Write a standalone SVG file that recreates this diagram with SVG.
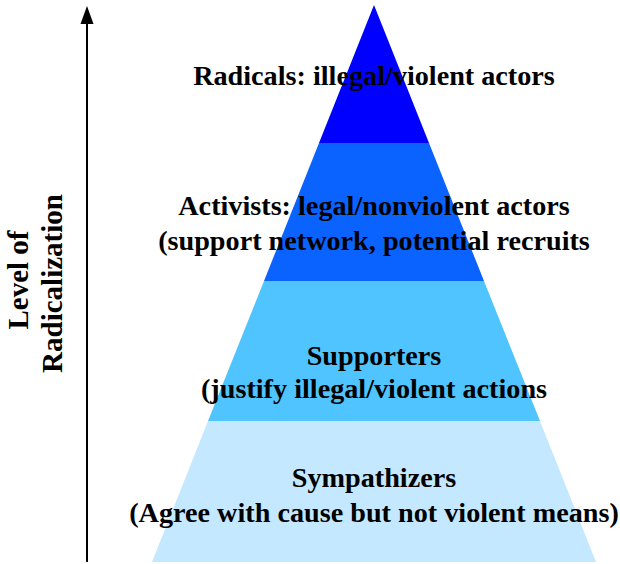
<svg xmlns="http://www.w3.org/2000/svg" width="620" height="564" viewBox="0 0 620 564">
<style>
text{font-family:"Liberation Serif","Times New Roman",serif;font-weight:bold;fill:#000;}
.lbl{font-size:28.2px;text-anchor:middle;}
.axis{font-size:29px;text-anchor:middle;}
</style>
<rect width="620" height="564" fill="#fff"/>
<g id="pyramid">
<polygon id="tier-radicals" points="374,5 429,143 319,143" fill="#0000ff"/>
<polygon id="tier-activists" points="319,143 429,143 484,281 264,281" fill="#0a62ff"/>
<polygon id="tier-supporters" points="264,281 484,281 540,421 208,421" fill="#4fc4ff"/>
<polygon id="tier-sympathizers" points="208,421 540,421 596,562 152,562" fill="#c4e8ff"/>
</g>
<g id="connectors">
<line x1="87" y1="562" x2="87" y2="22" stroke="#000" stroke-width="2"/>
<polygon points="87,6 80.5,24 93.5,24" fill="#000"/>
</g>
<g id="axis-label">
<text class="axis" transform="translate(28,280) rotate(-90)">Level of</text>
<text class="axis" transform="translate(62,283.5) rotate(-90)">Radicalization</text>
</g>
<g id="label-radicals"><text class="lbl" x="374" y="85">Radicals: illegal/violent actors</text></g>
<g id="label-activists"><text class="lbl" x="374" y="215">Activists: legal/nonviolent actors</text><text class="lbl" x="374" y="250">(support network, potential recruits</text></g>
<g id="label-supporters"><text class="lbl" x="374" y="365">Supporters</text><text class="lbl" x="374" y="398">(justify illegal/violent actions</text></g>
<g id="label-sympathizers"><text class="lbl" x="374" y="487">Sympathizers</text><text class="lbl" x="374" y="522">(Agree with cause but not violent means)</text></g>
</svg>
